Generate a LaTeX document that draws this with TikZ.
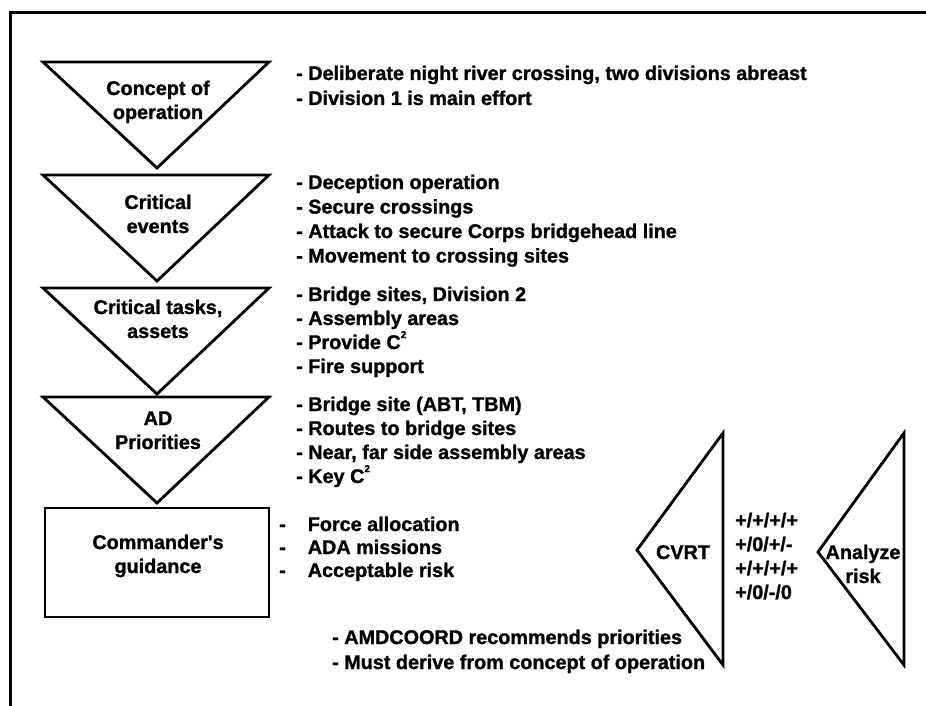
\documentclass[tikz,border=0pt]{standalone}
\usepackage{fontspec}
\setmainfont{Liberation Sans}[BoldFeatures={FakeBold=1.2}]
\newcommand{\sqr}{\raisebox{0.55em}{\fontsize{10}{10}\selectfont 2}}
\begin{document}
\begin{tikzpicture}[x=1pt,y=-1pt,
  outline/.style={line width=2.8pt,line join=miter},
  frameline/.style={line width=3pt},
  txt/.style={inner sep=0pt,font=\fontsize{19.8}{24}\selectfont\bfseries},
  item/.style={txt,anchor=base west},
  lbl/.style={txt,anchor=base}]
\useasboundingbox (0,0) rectangle (926,706);

% open frame: left side and top
\draw[frameline] (10,706) -- (10,12.5) -- (926,12.5);

% planning steps, top to bottom
\foreach \top/\nm in {62/t1,175/t2,288/t3,397/t4}{
  \coordinate (\nm-l) at (43,\top);
  \coordinate (\nm-r) at (269,\top);
  \coordinate (\nm-a) at (157,\top+106);
  \draw[outline] (\nm-l) -- (\nm-r) -- (\nm-a) -- cycle;
}
\draw[outline] (45,508) rectangle (269,617);

\node[lbl] (l1a) at (158,95)  {Concept of};
\node[lbl] (l1b) at (158,119) {operation};
\node[lbl] (l2a) at (158,209) {Critical};
\node[lbl] (l2b) at (158,233) {events};
\node[lbl] (l3a) at (158,314) {Critical tasks,};
\node[lbl] (l3b) at (158,338) {assets};
\node[lbl] (l4a) at (158,425) {AD};
\node[lbl] (l4b) at (158,449) {Priorities};
\node[lbl] (l5a) at (158,549) {Commander\textquotesingle s};
\node[lbl] (l5b) at (158,573) {guidance};

% lists beside each step
\foreach \t [count=\i] in {{- Deliberate night river crossing, two divisions abreast},
                           {- Division 1 is main effort}}
  \node[item] (g1-\i) at (296,80+25*\i-25) {\t};
\foreach \t [count=\i] in {{- Deception operation},{- Secure crossings},
                           {- Attack to secure Corps bridgehead line},
                           {- Movement to crossing sites}}
  \node[item] (g2-\i) at (296,189+24.5*\i-24.5) {\t};
\foreach \t [count=\i] in {{- Bridge sites, Division 2},{- Assembly areas},
                           {- Provide C\sqr},{- Fire support}}
  \node[item] (g3-\i) at (296,301+24*\i-24) {\t};
\foreach \t [count=\i] in {{- Bridge site (ABT, TBM)},{- Routes to bridge sites},
                           {- Near, far side assembly areas},{- Key C\sqr}}
  \node[item] (g4-\i) at (296,411+24*\i-24) {\t};
\foreach \t [count=\i] in {{Force allocation},{ADA missions},{Acceptable risk}}
  \node[item] (g5-\i) at (279,531+23*\i-23) {-\hspace{22pt}\t};

\node[item] (n1) at (332,644) {- AMDCOORD recommends priorities};
\node[item] (n2) at (332,669) {- Must derive from concept of operation};

% risk assessment wedges
\coordinate (c-t) at (723,433);
\coordinate (c-b) at (723,665);
\coordinate (c-a) at (637,550);
\draw[outline] (c-t) -- (c-b) -- (c-a) -- cycle;
\node[lbl] (cvrt) at (683,559) {CVRT};

\coordinate (r-t) at (904,433);
\coordinate (r-b) at (904,665);
\coordinate (r-a) at (818,552);
\draw[outline] (r-t) -- (r-b) -- (r-a) -- cycle;
\node[lbl] (ar1) at (863,559) {Analyze};
\node[lbl] (ar2) at (863,583) {risk};

\foreach \t [count=\i] in {{+/+/+/+},{+/0/+/-},{+/+/+/+},{+/0/-/0}}
  \node[item] (code-\i) at (735,527+24*\i-24) {\t};
\end{tikzpicture}
\end{document}
